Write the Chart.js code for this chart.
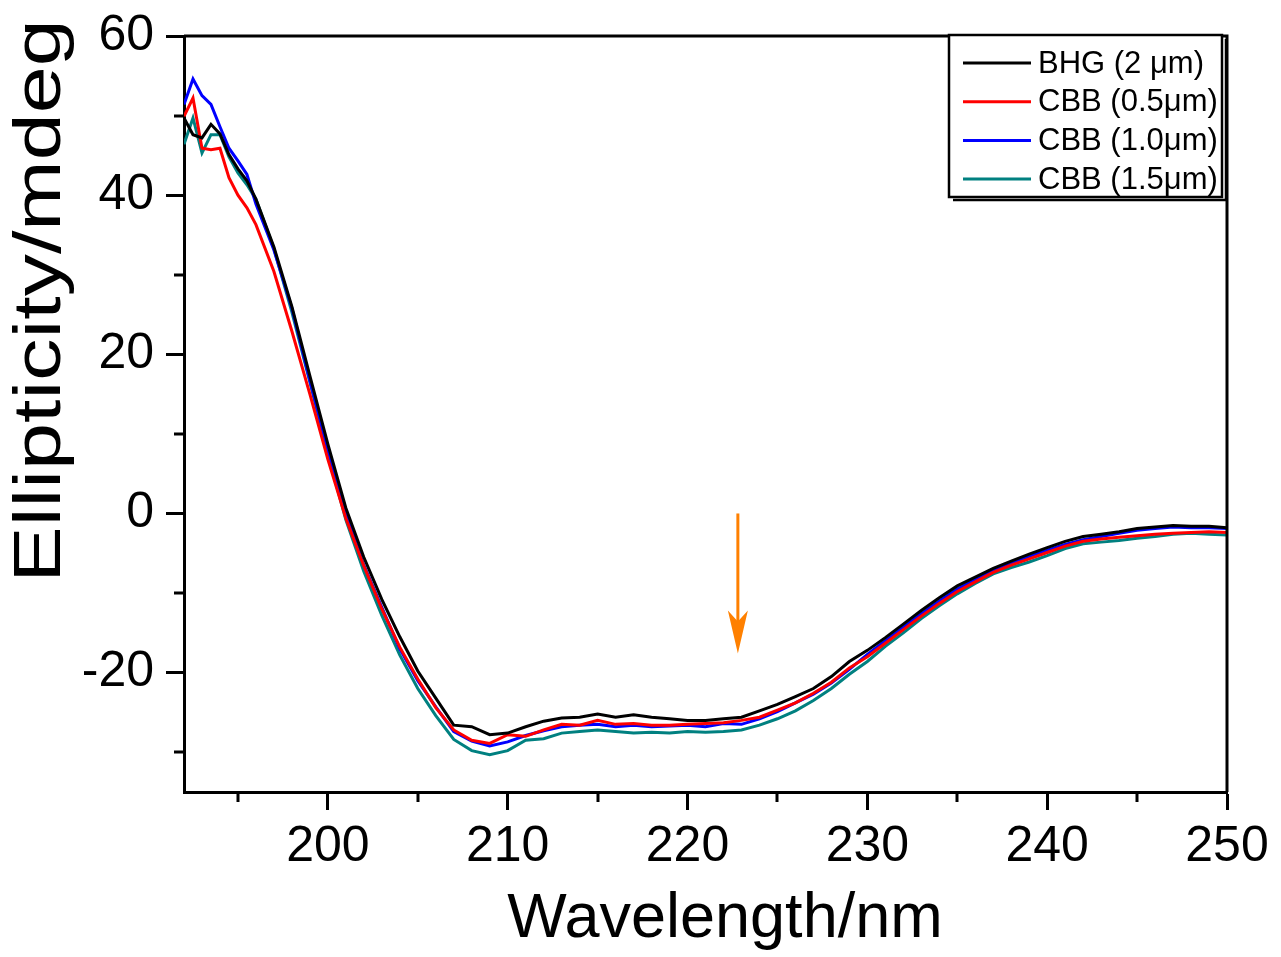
<!DOCTYPE html>
<html>
<head>
<meta charset="utf-8">
<title>CD spectra</title>
<script src="https://cdn.jsdelivr.net/npm/chart.js@4.4.1/dist/chart.umd.min.js"></script>
<style>
  html, body { margin: 0; padding: 0; background: #fff; }
  #wrap { width: 1281px; height: 957px; }
</style>
</head>
<body>
<div id="wrap"><canvas id="cdChart" width="1281" height="957"></canvas></div>
<script>
// wavelength (nm) - finer steps at the start where the traces are noisy
const wavelengths = [192, 192.5, 193, 193.5, 194, 194.5, 195, 195.5, 196,
    197, 198, 199, 200, 201, 202, 203, 204, 205, 206,
    207, 208, 209, 210, 211, 212, 213, 214, 215, 216,
    217, 218, 219, 220, 221, 222, 223, 224, 225, 226,
    227, 228, 229, 230, 231, 232, 233, 234, 235, 236,
    237, 238, 239, 240, 241, 242, 243, 244, 245, 246,
    247, 248, 249, 250];

// ellipticity (mdeg)
const bhg2 = [49.7, 47.6, 47.2, 48.9, 47.7, 45.1, 43.3, 41.8, 39.5,
    33.5, 26.0, 17.3, 8.7, 0.7, -5.5, -10.8, -15.5, -19.8, -23.2,
    -26.6, -26.8, -27.8, -27.6, -26.8, -26.1, -25.7, -25.6, -25.2, -25.6,
    -25.3, -25.6, -25.8, -26.0, -26.0, -25.8, -25.6, -24.8, -24.0, -23.0,
    -22.0, -20.5, -18.6, -17.2, -15.6, -13.9, -12.2, -10.6, -9.1, -8.0,
    -6.9, -6.0, -5.1, -4.3, -3.5, -2.9, -2.6, -2.3, -1.9, -1.7,
    -1.5, -1.6, -1.6, -1.8];

const cbb05 = [49.9, 52.2, 45.9, 45.7, 45.9, 42.2, 40.0, 38.4, 36.3,
    30.4, 22.9, 15.0, 6.8, -0.6, -6.6, -12.0, -16.8, -20.8, -24.4,
    -27.2, -28.5, -28.9, -27.8, -28.0, -27.2, -26.5, -26.6, -26.0, -26.5,
    -26.4, -26.6, -26.6, -26.5, -26.4, -26.3, -26.0, -25.6, -24.7, -23.8,
    -22.6, -21.2, -19.4, -18.0, -16.3, -14.6, -12.9, -11.3, -9.8, -8.6,
    -7.4, -6.5, -5.7, -4.9, -4.1, -3.5, -3.2, -3.0, -2.8, -2.6,
    -2.5, -2.4, -2.3, -2.4];

const cbb10 = [51.4, 54.6, 52.5, 51.4, 48.6, 45.9, 44.3, 42.6, 38.9,
    33.1, 25.8, 16.7, 8.0, 0.0, -6.5, -11.8, -17.0, -21.0, -24.3,
    -27.4, -28.6, -29.2, -28.7, -27.9, -27.3, -26.8, -26.6, -26.5, -26.8,
    -26.6, -26.8, -26.7, -26.6, -26.8, -26.4, -26.5, -25.8, -24.9, -23.8,
    -22.7, -21.3, -19.6, -17.7, -16.0, -14.3, -12.6, -11.0, -9.5, -8.3,
    -7.2, -6.3, -5.4, -4.6, -3.9, -3.3, -2.9, -2.5, -2.1, -1.9,
    -1.7, -1.8, -1.8, -1.9];

const cbb15 = [46.4, 49.7, 45.3, 47.6, 47.6, 44.8, 42.8, 41.3, 39.5,
    33.3, 25.3, 16.5, 7.5, -0.8, -7.3, -12.8, -17.8, -22.0, -25.4,
    -28.4, -29.8, -30.3, -29.8, -28.5, -28.3, -27.6, -27.4, -27.2, -27.4,
    -27.6, -27.5, -27.6, -27.4, -27.5, -27.4, -27.2, -26.6, -25.8, -24.8,
    -23.5, -22.0, -20.2, -18.6, -16.7, -15.0, -13.2, -11.6, -10.1, -8.8,
    -7.6, -6.8, -6.1, -5.3, -4.4, -3.8, -3.6, -3.4, -3.1, -2.9,
    -2.6, -2.5, -2.6, -2.7];

const seriesLabels = ['BHG (2 \u03bcm)', 'CBB (0.5\u03bcm)', 'CBB (1.0\u03bcm)', 'CBB (1.5\u03bcm)'];
const seriesColors = ['#000000', '#ff0000', '#0000ff', '#008080'];

// axis ticks
const xMajor = [200, 210, 220, 230, 240, 250];
const xMinor = [195, 205, 215, 225, 235, 245];
const yMajor = [-20, 0, 20, 40, 60];
const yMinor = [-30, -10, 10, 30, 50];

// arrow marker: wavelength, start value, end value
const arrowMark = [222.8, 0, -17.6];

const FONT = '"Liberation Sans", Arial, Helvetica, sans-serif';

const pts = (arr) => wavelengths.map((w, i) => ({ x: w, y: arr[i] }));
const allSeries = [bhg2, cbb05, cbb10, cbb15];

// frame, minor ticks, arrow, legend, axis titles
const decorPlugin = {
    id: 'decor',
    afterDatasetsDraw(chart) {
        const ctx = chart.ctx;
        const xs = chart.scales.x, ys = chart.scales.y;
        // orange arrow
        const ax = xs.getPixelForValue(arrowMark[0]);
        const y0 = ys.getPixelForValue(arrowMark[1]);
        const y1 = ys.getPixelForValue(arrowMark[2]);
        ctx.save();
        ctx.strokeStyle = '#ff8000';
        ctx.fillStyle = '#ff8000';
        ctx.lineWidth = 3;
        ctx.beginPath();
        ctx.moveTo(ax, y0);
        ctx.lineTo(ax, y1 - 20);
        ctx.stroke();
        ctx.beginPath();
        ctx.moveTo(ax, y1);
        ctx.lineTo(ax - 10, y1 - 43);
        ctx.lineTo(ax, y1 - 32);
        ctx.lineTo(ax + 10, y1 - 43);
        ctx.closePath();
        ctx.fill();
        ctx.restore();
    },
    afterDraw(chart) {
        const ctx = chart.ctx;
        const a = chart.chartArea;
        const xs = chart.scales.x, ys = chart.scales.y;
        ctx.save();
        ctx.strokeStyle = '#000';
        ctx.lineWidth = 3;
        // top and right edges of the box
        ctx.beginPath();
        ctx.moveTo(a.left, a.top);
        ctx.lineTo(a.right, a.top);
        ctx.lineTo(a.right, a.bottom);
        ctx.stroke();
        // minor ticks
        ctx.beginPath();
        xMinor.forEach(v => {
            const px = Math.round(xs.getPixelForValue(v));
            ctx.moveTo(px, a.bottom);
            ctx.lineTo(px, a.bottom + 10);
        });
        yMinor.forEach(v => {
            const py = Math.round(ys.getPixelForValue(v));
            ctx.moveTo(a.left - 10, py);
            ctx.lineTo(a.left, py);
        });
        ctx.stroke();

        // legend box
        const bx = a.right - 278, by = a.top - 1, bw = 273, bh = 162;
        ctx.fillStyle = '#fff';
        ctx.fillRect(bx, by, bw, bh);
        ctx.lineWidth = 2.5;
        ctx.strokeRect(bx, by, bw, bh);
        ctx.beginPath();
        ctx.moveTo(bx + bw + 4, by + 4);
        ctx.lineTo(bx + bw + 4, by + bh + 3);
        ctx.lineTo(bx + 4, by + bh + 3);
        ctx.stroke();
        ctx.font = '31px ' + FONT;
        ctx.textAlign = 'left';
        ctx.textBaseline = 'middle';
        chart.data.datasets.forEach((ds, i) => {
            const ry = by + 28 + i * 38.7;
            ctx.strokeStyle = ds.borderColor;
            ctx.lineWidth = 3;
            ctx.beginPath();
            ctx.moveTo(bx + 14, ry);
            ctx.lineTo(bx + 82, ry);
            ctx.stroke();
            ctx.fillStyle = '#000';
            ctx.fillText(ds.label, bx + 89, ry + 1);
        });

        // x axis title (sits a bit right of centre in the original)
        ctx.fillStyle = '#000';
        ctx.font = '63px ' + FONT;
        ctx.textAlign = 'center';
        ctx.textBaseline = 'middle';
        ctx.fillText('Wavelength/nm', 725, 920);

        // y axis title, a little stretched like the original
        ctx.translate(42, 301);
        ctx.rotate(-Math.PI / 2);
        ctx.scale(1.28, 1);
        ctx.font = '66px ' + FONT;
        ctx.fillText('Ellipticity/mdeg', 0, 0);
        ctx.restore();
    }
};

new Chart(document.getElementById('cdChart'), {
    type: 'line',
    data: {
        datasets: allSeries.map((s, i) => ({
            label: seriesLabels[i],
            data: pts(s),
            borderColor: seriesColors[i],
            borderWidth: 3,
            pointRadius: 0,
            tension: 0,
            fill: false
        }))
    },
    options: {
        responsive: false,
        animation: false,
        layout: { padding: { top: 36, right: 54, left: 0, bottom: 0 } },
        plugins: {
            legend: { display: false },
            tooltip: { enabled: false }
        },
        scales: {
            x: {
                type: 'linear',
                min: 192,
                max: 250,
                afterBuildTicks: (scale) => { scale.ticks = xMajor.map(v => ({ value: v })); },
                afterFit: (scale) => {
                    scale.height = 165;
                    scale.paddingLeft = 0;
                    scale.paddingRight = 0;
                },
                ticks: {
                    color: '#000',
                    font: { family: FONT, size: 50 },
                    padding: 7,
                    maxRotation: 0
                },
                grid: {
                    drawOnChartArea: false,
                    drawTicks: true,
                    tickLength: 18,
                    tickWidth: 3,
                    tickColor: '#000'
                },
                border: { display: true, color: '#000', width: 3 }
            },
            y: {
                min: -35,
                max: 60,
                afterBuildTicks: (scale) => { scale.ticks = yMajor.map(v => ({ value: v })); },
                afterFit: (scale) => {
                    scale.width = 184;
                    scale.paddingTop = 0;
                    scale.paddingBottom = 0;
                },
                ticks: {
                    color: '#000',
                    font: { family: FONT, size: 50 },
                    padding: 12
                },
                grid: {
                    drawOnChartArea: false,
                    drawTicks: true,
                    tickLength: 18,
                    tickWidth: 3,
                    tickColor: '#000'
                },
                border: { display: true, color: '#000', width: 3 }
            }
        }
    },
    plugins: [decorPlugin]
});
</script>
</body>
</html>
